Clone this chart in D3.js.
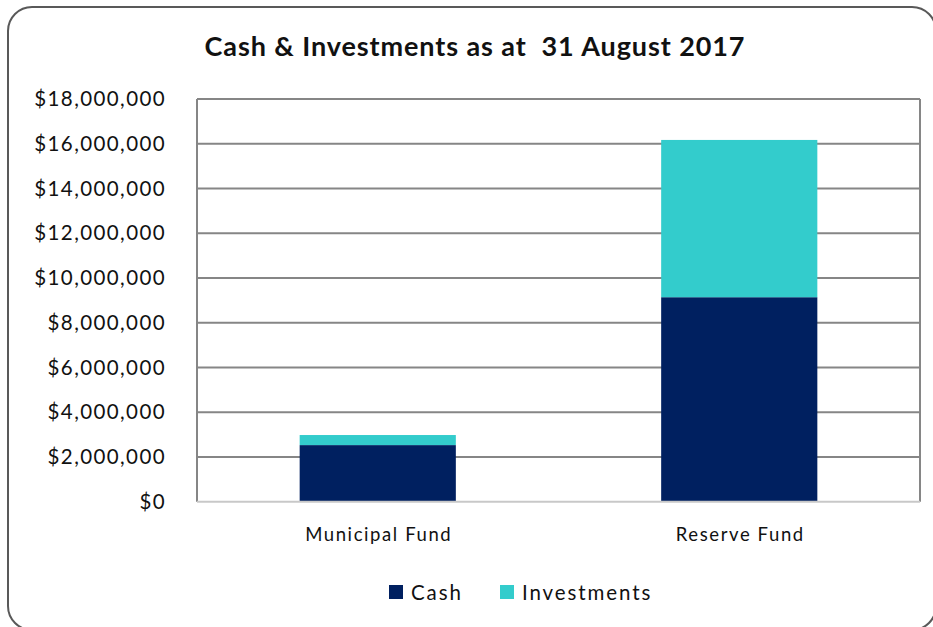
<!DOCTYPE html>
<html><head><meta charset="utf-8">
<script src="https://cdn.jsdelivr.net/npm/d3@7"></script>
<style>body{margin:0;background:#fff}svg{display:block}</style>
</head><body>
<script>
const categories = ["Municipal Fund", "Reserve Fund"];
const seriesNames = ["Cash", "Investments"];
const cash = [2530000, 9140000];
const investments = [450000, 7030000];
const yTicks = [0, 2000000, 4000000, 6000000, 8000000, 10000000, 12000000, 14000000, 16000000, 18000000];
const colors = ["#002060", "#33CCCC"];

const W = 933, H = 627;
const svg = d3.select("body").append("svg").attr("width", W).attr("height", H);
const font = "Lato, 'Open Sans', sans-serif";

svg.append("rect").attr("x", 8).attr("y", 7).attr("width", 928).attr("height", 623)
  .attr("rx", 24).attr("fill", "#fff").attr("stroke", "#595959").attr("stroke-width", 2);

const L = 197, R = 920, T = 99, B = 501.7;
const x = d3.scaleBand().domain(categories).range([L, R]).padding(0);
const y = d3.scaleLinear().domain([0, 18000000]).range([B, T]);

// gridlines
svg.append("g").selectAll("line").data(yTicks.filter(d => d > 0)).join("line")
  .attr("x1", L).attr("x2", R).attr("y1", d => y(d)).attr("y2", d => y(d))
  .attr("stroke", "#868686").attr("stroke-width", 2);

// plot frame left/right
svg.append("line").attr("x1", L).attr("x2", L).attr("y1", T).attr("y2", B).attr("stroke", "#868686").attr("stroke-width", 2);
svg.append("line").attr("x1", R).attr("x2", R).attr("y1", T).attr("y2", B).attr("stroke", "#868686").attr("stroke-width", 2);

// stacked bars
const data = categories.map((c, i) => ({cat: c, Cash: cash[i], Investments: investments[i]}));
const stack = d3.stack().keys(seriesNames)(data);
const bw = x.bandwidth() * 0.432;
svg.append("g").selectAll("g").data(stack).join("g")
  .attr("fill", (d, i) => colors[i])
  .selectAll("rect").data(d => d).join("rect")
  .attr("x", d => x(d.data.cat) + x.bandwidth() / 2 - bw / 2)
  .attr("width", bw)
  .attr("y", d => y(d[1]))
  .attr("height", d => y(d[0]) - y(d[1]));

// bottom axis line
svg.append("line").attr("x1", L).attr("x2", R).attr("y1", B).attr("y2", B).attr("stroke", "#c8c8c8").attr("stroke-width", 2);

// y axis labels
const fmt = d => "$" + d3.format(",")(d);
svg.append("g").selectAll("text").data(yTicks).join("text")
  .attr("x", 166).attr("y", d => y(d)).attr("dy", "0.35em")
  .attr("text-anchor", "end").attr("font-family", font).attr("font-size", 20.5)
  .attr("letter-spacing", 1.4).attr("fill", "#111").text(fmt);

// x labels
svg.append("g").selectAll("text").data(categories).join("text")
  .attr("x", d => x(d) + x.bandwidth() / 2 + 1).attr("y", 535).attr("dy", "0.35em")
  .attr("text-anchor", "middle").attr("font-family", font).attr("font-size", 18.5)
  .attr("letter-spacing", 1.6).attr("fill", "#111").text(d => d);

// title
svg.append("text").attr("x", 475).attr("y", 47).attr("dy", "0.35em")
  .attr("text-anchor", "middle").attr("font-family", font).attr("font-weight", "bold")
  .attr("font-size", 27).attr("letter-spacing", 0.9).attr("fill", "#111").attr("xml:space", "preserve")
  .text("Cash & Investments as at  31 August 2017");

// legend
const legendX = [389, 500];
const lg = svg.append("g").selectAll("g").data(seriesNames).join("g")
  .attr("transform", (d, i) => `translate(${legendX[i]},585)`);
lg.append("rect").attr("width", 14).attr("height", 14).attr("fill", (d, i) => colors[i]);
lg.append("text").attr("x", 22).attr("y", 8).attr("dy", "0.35em")
  .attr("font-family", font).attr("font-size", 20.5).attr("letter-spacing", 1.9).attr("fill", "#111").text(d => d);
</script>
</body></html>
